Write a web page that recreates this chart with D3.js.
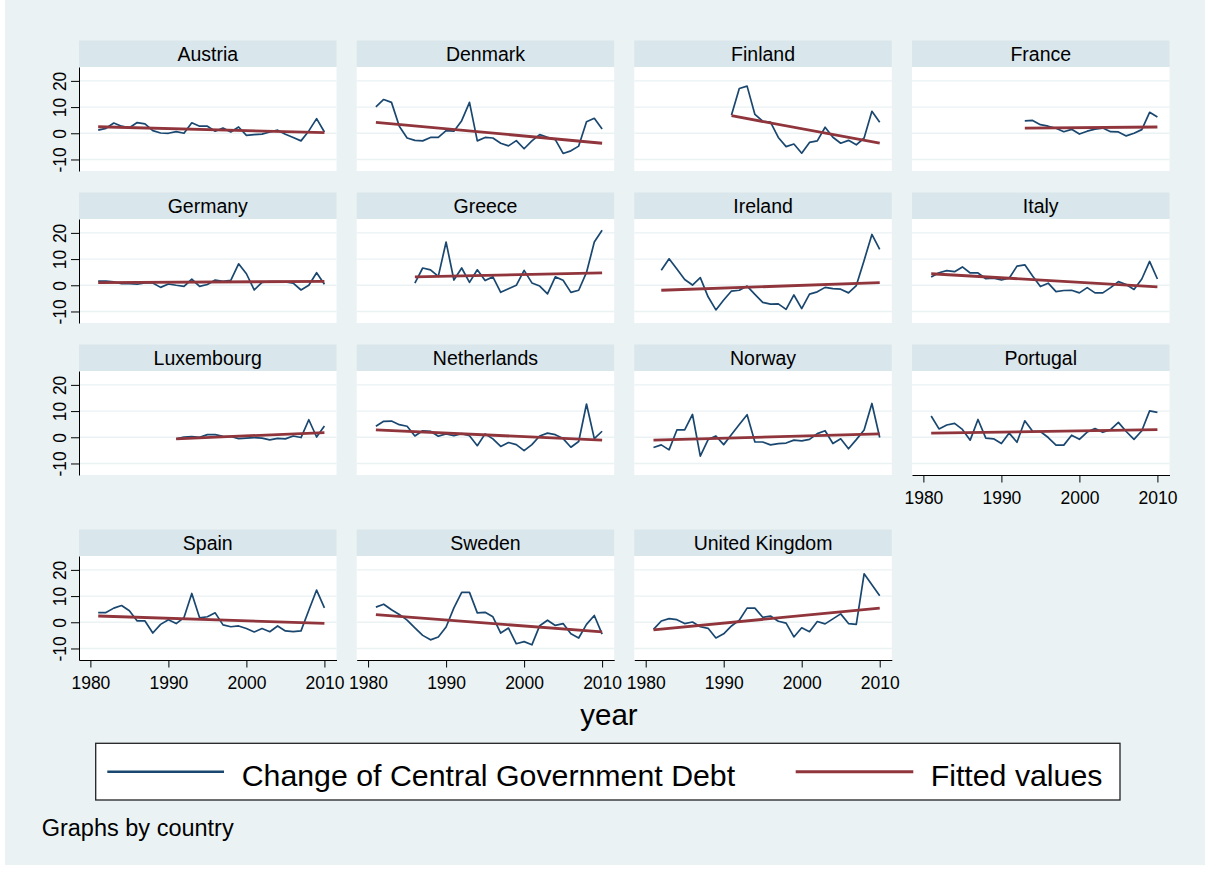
<!DOCTYPE html>
<html>
<head>
<meta charset="utf-8">
<script src="https://cdn.jsdelivr.net/npm/d3@7"></script>
<style>
  html, body { margin: 0; padding: 0; background: #ffffff; }
  svg { display: block; font-family: "Liberation Sans", Arial, Helvetica, sans-serif; }
</style>
</head>
<body>
<svg id="chart" width="1210" height="870"></svg>
<script>
// ---------------- data ----------------
const countries = ["Austria", "Denmark", "Finland", "France", "Germany", "Greece", "Ireland", "Italy",
  "Luxembourg", "Netherlands", "Norway", "Portugal", "Spain", "Sweden", "United Kingdom"];
const firstYear = [1981, 1981, 1991, 1993, 1981, 1986, 1982, 1981, 1991, 1981, 1981, 1981, 1981, 1981, 1981];

const debtAustria = [1.2, 1.9, 3.9, 2.7, 2.1, 4.1, 3.6, 1.0, 0.1, 0.0, 0.6, 0.0, 4.0, 2.7, 2.7, 0.8, 2.0, 0.5, 2.4, -0.8,
  -0.5, -0.3, 0.5, 1.2, -0.4, -1.6, -2.9, 0.9, 5.6, 0.5];
const debtDenmark = [10.1, 12.9, 11.8, 2.7, -1.8, -2.7, -2.9, -1.6, -1.6, 1.0, 0.8, 4.8, 11.8, -2.9, -1.6, -1.8, -3.8, -4.8, -2.8, -5.9,
  -2.9, -0.5, -1.5, -2.4, -7.7, -6.7, -4.9, 4.4, 5.7, 1.6];
const debtFinland = [7.0, 17.1, 18.0, 7.2, 4.6, 4.3, -1.6, -5.1, -4.1, -7.6, -3.5, -2.9, 2.3, -1.5, -3.8, -2.7, -4.4, -1.8, 8.4, 4.2];
const debtFrance = [4.7, 4.9, 3.3, 2.7, 1.9, 0.6, 1.5, -0.3, 0.8, 1.6, 2.0, 0.6, 0.5, -1.0, 0.0, 1.4, 8.0, 6.2];
const debtGermany = [1.6, 1.6, 1.3, 0.6, 0.6, 0.4, 0.9, 0.9, -0.8, 0.5, 0.0, -0.4, 2.3, -0.4, 0.3, 2.0, 1.5, 1.9, 8.2, 4.4,
  -1.8, 1.1, 1.4, 1.4, 1.3, 0.8, -1.8, 0.0, 4.8, 0.4];
const debtGreece = [0.8, 6.6, 5.9, 3.4, 16.5, 2.0, 6.6, 1.1, 5.9, 1.8, 3.2, -2.7, -1.3, 0.0, 5.7, 0.9, -0.3, -3.3, 3.2, 1.9,
  -2.7, -1.9, 4.9, 16.5, 21.0];
const debtIreland = [5.7, 10.1, 6.2, 2.2, 0.1, 2.9, -4.4, -9.4, -5.6, -2.2, -1.9, -0.3, -3.5, -6.5, -7.2, -7.1, -9.2, -3.7, -8.9,
  -3.4, -2.5, -0.8, -1.3, -1.5, -2.9, -0.1, 9.5, 19.4, 13.7];
const debtItaly = [3.2, 4.8, 5.6, 5.2, 7.0, 4.7, 4.7, 2.5, 2.7, 2.0, 2.7, 7.3, 7.8, 3.5, -0.5, 0.8, -2.4, -2.0, -1.9, -2.9,
  -0.9, -2.9, -2.9, -0.9, 1.4, 0.3, -1.6, 2.4, 9.1, 2.4];
const debtLuxembourg = [-0.6, 0.1, 0.3, 0.0, 1.0, 1.0, 0.4, 0.3, -0.5, -0.3, -0.1, -0.3, -1.0, -0.4, -0.6, 0.5, -0.1, 6.7, 0.1, 4.3];
const debtNetherlands = [4.2, 6.1, 6.2, 4.8, 4.2, 0.5, 2.5, 2.3, 0.4, 1.3, 0.6, 1.4, 0.6, -3.2, 1.3, -0.6, -3.5, -2.0, -2.8, -5.1,
  -2.8, 0.5, 1.6, 1.0, -0.5, -3.8, -1.6, 12.7, -0.5, 2.3];
const debtNorway = [-3.9, -2.9, -4.8, 2.8, 2.8, 8.7, -7.2, -0.9, 0.5, -2.8, 1.1, 4.9, 8.6, -1.8, -1.8, -2.9, -2.4, -2.2, -1.1, -1.4,
  -0.8, 1.4, 2.5, -2.4, -0.6, -4.4, -0.9, 2.8, 12.9, -0.1];
const debtPortugal = [8.1, 3.2, 4.7, 5.3, 3.0, -1.1, 6.8, -0.3, -0.6, -2.4, 1.6, -1.9, 6.3, 2.3, 2.2, -0.1, -3.0, -3.0, 0.8, -0.8,
  2.0, 3.3, 1.9, 2.9, 5.7, 2.2, -0.8, 2.5, 10.1, 9.5];
const debtSpain = [3.7, 3.7, 5.4, 6.4, 4.4, 0.5, 0.5, -4.1, -0.8, 1.0, -0.5, 1.8, 11.0, 1.7, 2.1, 3.6, -1.0, -1.7, -1.4, -2.4,
  -3.7, -2.4, -3.6, -1.4, -3.3, -3.6, -3.3, 4.6, 12.3, 5.5];
const debtSweden = [5.8, 6.9, 4.8, 3.0, 0.8, -2.1, -5.0, -6.7, -5.6, -1.8, 5.5, 11.4, 11.4, 3.6, 3.8, 2.1, -4.1, -2.2, -8.2, -7.4,
  -8.6, -1.3, 0.8, -1.2, -0.5, -4.4, -6.0, -0.8, 2.6, -4.5];
const debtUK = [-2.7, 0.5, 1.4, 1.0, -0.5, 0.1, -1.7, -2.3, -6.0, -4.4, -1.4, 0.8, 5.4, 5.4, 1.9, 2.4, 0.4, -0.3, -5.6, -2.1,
  -3.6, 0.3, -0.6, 1.3, 3.2, -0.5, -0.8, 18.5, 14.3, 10.1];

const debtSeries = [debtAustria, debtDenmark, debtFinland, debtFrance, debtGermany, debtGreece, debtIreland, debtItaly,
  debtLuxembourg, debtNetherlands, debtNorway, debtPortugal, debtSpain, debtSweden, debtUK];

// fitted values at the first and last year of each country
const fitFirst = [2.5, 4.2, 6.7, 2.0, 1.0, 3.2, -1.9, 4.4, -0.6, 2.8, -1.1, 1.6, 2.4, 2.9, -2.9];
const fitLast  = [0.25, -3.8, -3.8, 2.4, 1.5, 4.7, 1.0, -0.6, 1.8, -1.1, 1.3, 2.9, -0.4, -3.7, 5.4];
const lastYear = 2010;

const xTicks = [1980, 1990, 2000, 2010];
const yTicks = [-10, 0, 10, 20];
const seriesNames = ["Change of Central Government Debt", "Fitted values"];

// ---------------- layout ----------------
const W = 1210, H = 870;
const colLeft = [79, 356.7, 634.3, 912];
const plotTop = [67, 219, 371, 556];
const pw = 257.5, ph = 104, headerH = 26.5;
const navy = "#1a476f", maroon = "#90353b";

const svg = d3.select("#chart");
svg.append("rect").attr("x", 5).attr("y", 0).attr("width", W - 10).attr("height", H - 5).attr("fill", "#eaf2f3");

const x = d3.scaleLinear().domain([1978.54, 2011.55]).range([0, pw]);
const y = d3.scaleLinear().domain([-14.4, 25.3]).range([ph, 0]);

const line = d3.line().x(d => x(d.year)).y(d => y(d.value));

countries.forEach((name, i) => {
  const row = Math.floor(i / 4), col = i % 4;
  const g = svg.append("g").attr("transform", `translate(${colLeft[col]},${plotTop[row]})`);

  // header strip
  g.append("rect").attr("x", 0).attr("y", -headerH).attr("width", pw).attr("height", headerH).attr("fill", "#d9e6eb");
  g.append("text").attr("x", pw / 2).attr("y", -headerH + 20.5).attr("text-anchor", "middle")
    .attr("font-size", 19.5).attr("fill", "#000").text(name);

  // plot area
  g.append("rect").attr("x", 0).attr("y", 0).attr("width", pw).attr("height", ph).attr("fill", "#ffffff");

  // gridlines
  g.selectAll("line.grid").data(yTicks).enter().append("line")
    .attr("x1", 0).attr("x2", pw).attr("y1", d => y(d)).attr("y2", d => y(d))
    .attr("stroke", "#eaf2f3").attr("stroke-width", 1.4);

  // data series
  const pts = debtSeries[i].map((v, k) => ({ year: firstYear[i] + k, value: v }));
  g.append("path").datum(pts).attr("d", line).attr("fill", "none")
    .attr("stroke", navy).attr("stroke-width", 1.7).attr("stroke-linejoin", "round");

  const fit = [{ year: firstYear[i], value: fitFirst[i] }, { year: lastYear, value: fitLast[i] }];
  g.append("path").datum(fit).attr("d", line).attr("fill", "none")
    .attr("stroke", maroon).attr("stroke-width", 2.8);

  // y axis (first column)
  if (col === 0) {
    const ya = g.append("g").call(d3.axisLeft(y).tickValues(yTicks).tickFormat(d => String(d)).tickSize(8).tickSizeOuter(0));
    ya.select(".domain").attr("stroke", "#000");
    ya.selectAll(".tick line").attr("stroke", "#000");
    ya.selectAll(".tick text")
      .attr("transform", "rotate(-90)")
      .attr("x", 0).attr("y", -12.6).attr("dy", 0)
      .attr("text-anchor", "middle")
      .attr("font-size", 17.5).attr("font-family", "Liberation Sans, Arial, sans-serif").attr("fill", "#000");
  }
  // x axis (bottom panel in each column)
  if (i >= 11) {
    const xa = g.append("g").attr("transform", `translate(0,${ph})`)
      .call(d3.axisBottom(x).tickValues(xTicks).tickFormat(d => String(d)).tickSize(7.5).tickSizeOuter(0));
    xa.select(".domain").attr("stroke", "#000");
    xa.selectAll(".tick line").attr("stroke", "#000");
    xa.selectAll(".tick text").attr("y", 29.3).attr("dy", 0)
      .attr("font-size", 17.5).attr("font-family", "Liberation Sans, Arial, sans-serif").attr("fill", "#000");
  }
});

// axis title
svg.append("text").attr("x", 609).attr("y", 724.5).attr("text-anchor", "middle")
  .attr("font-size", 29.5).attr("fill", "#000").text("year");

// legend
const lg = svg.append("g");
lg.append("rect").attr("x", 95.7).attr("y", 743.3).attr("width", 1024.3).attr("height", 56.7)
  .attr("fill", "#ffffff").attr("stroke", "#222").attr("stroke-width", 1.3);
lg.append("line").attr("x1", 107.3).attr("x2", 224).attr("y1", 771.7).attr("y2", 771.7)
  .attr("stroke", navy).attr("stroke-width", 2.6);
lg.append("text").attr("x", 241.7).attr("y", 785.5).attr("font-size", 30.3).attr("fill", "#000").text(seriesNames[0]);
lg.append("line").attr("x1", 795.7).attr("x2", 913.3).attr("y1", 771.7).attr("y2", 771.7)
  .attr("stroke", maroon).attr("stroke-width", 3);
lg.append("text").attr("x", 930.7).attr("y", 785.5).attr("font-size", 30.3).attr("fill", "#000").text(seriesNames[1]);

// note
svg.append("text").attr("x", 41.7).attr("y", 835.5).attr("font-size", 23.5).attr("fill", "#000").text("Graphs by country");
</script>
</body>
</html>
